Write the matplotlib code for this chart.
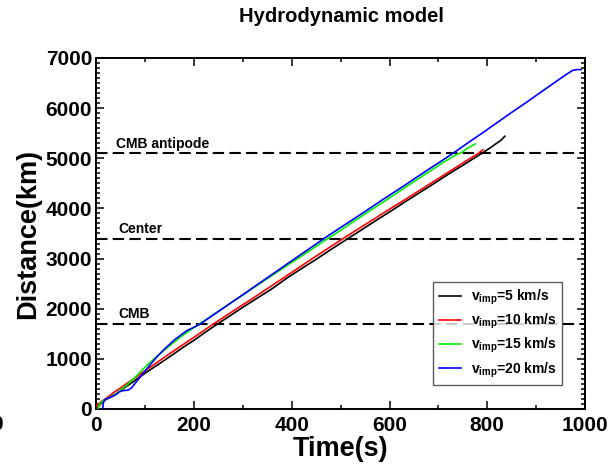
import matplotlib
matplotlib.use("Agg")
import matplotlib.pyplot as plt
from matplotlib.ticker import MultipleLocator

plt.rcParams["font.family"] = ["Liberation Sans", "DejaVu Sans"]
plt.rcParams["font.weight"] = "bold"
plt.rcParams["mathtext.fontset"] = "custom"
plt.rcParams["mathtext.rm"] = "Liberation Sans:bold"
plt.rcParams["mathtext.it"] = "Liberation Sans:bold"
plt.rcParams["mathtext.default"] = "rm"

# Reference depths (km)
cmb_depth = 1700
center_depth = 3400
antipode_depth = 5100
ref_labels = ["CMB", "Center", "CMB antipode"]

# Shock front position vs time for each impact velocity
t_5 = [0, 5, 12, 20, 30, 40, 50, 60, 70, 85, 100, 120, 140, 160, 180, 200, 220, 247,
       270, 300, 330, 360, 390, 420, 450, 480, 515, 540, 570, 600, 630, 660, 690, 720,
       750, 789, 800, 810, 820, 828, 836]
d_5 = [0, 60, 130, 190, 240, 300, 370, 440, 505, 610, 715, 845, 975, 1110, 1245, 1370,
       1510, 1690, 1835, 2030, 2215, 2400, 2610, 2800, 2985, 3180, 3400, 3555, 3745,
       3930, 4120, 4305, 4490, 4680, 4860, 5100, 5170, 5235, 5305, 5360, 5440]

t_10 = [0, 4, 10, 18, 28, 38, 48, 58, 70, 85, 100, 120, 140, 160, 180, 200, 220, 239,
        270, 300, 330, 360, 390, 420, 450, 480, 505, 540, 570, 600, 630, 660, 690, 720,
        750, 782, 791]
d_10 = [50, 100, 150, 200, 270, 345, 410, 480, 560, 660, 765, 900, 1035, 1170, 1300,
        1430, 1565, 1690, 1890, 2080, 2270, 2465, 2660, 2855, 3050, 3240, 3400, 3615,
        3800, 3985, 4165, 4350, 4535, 4720, 4905, 5100, 5170]

t_15 = [3, 6, 10, 16, 25, 35, 45, 55, 65, 80, 95, 110, 125, 140, 160, 180, 195, 210,
        240, 270, 300, 330, 360, 390, 420, 450, 474, 500, 530, 560, 590, 620, 650, 680,
        710, 738, 745, 755, 765, 775]
d_15 = [0, 80, 140, 180, 220, 270, 340, 420, 500, 640, 790, 930, 1060, 1180, 1340, 1490,
        1590, 1690, 1885, 2080, 2275, 2470, 2665, 2860, 3050, 3245, 3400, 3565, 3760,
        3955, 4145, 4340, 4535, 4725, 4920, 5080, 5100, 5170, 5230, 5285]

t_20 = [13, 14, 15, 18, 25, 35, 42, 47, 52, 58, 65, 72, 80, 95, 110, 125, 140, 160, 185,
        212, 240, 270, 300, 330, 360, 390, 420, 466, 500, 530, 560, 590, 620, 650, 680,
        710, 730, 760, 790, 820, 850, 880, 910, 940, 960, 975, 985, 992]
d_20 = [0, 80, 150, 190, 220, 260, 300, 340, 360, 370, 375, 420, 520, 700, 880, 1050,
        1200, 1380, 1560, 1690, 1880, 2080, 2280, 2485, 2685, 2890, 3090, 3400, 3620,
        3810, 4005, 4200, 4390, 4585, 4780, 4970, 5100, 5305, 5505, 5710, 5915, 6115,
        6320, 6525, 6660, 6755, 6770, 6768]

series = [
    (t_5, d_5, "#000000", r"v$_{imp}$=5 km/s"),
    (t_10, d_10, "#ff0000", r"v$_{imp}$=10 km/s"),
    (t_15, d_15, "#00ee00", r"v$_{imp}$=15 km/s"),
    (t_20, d_20, "#0000ff", r"v$_{imp}$=20 km/s"),
]

fig = plt.figure(figsize=(6.16, 4.67), dpi=100)
ax = fig.add_axes([96.3 / 616, 1 - 409 / 467, 488.7 / 616, 351 / 467])

for depth, lab, tx in zip([cmb_depth, center_depth, antipode_depth], ref_labels, [46, 45, 40]):
    ax.axhline(depth, color="black", lw=1.5, dashes=(5.5, 2.5), zorder=1)
    ax.text(tx, depth + 115, lab, fontsize=10, fontweight="bold", va="baseline", ha="left")

for t, d, c, lab in series:
    ax.plot(t, d, color=c, lw=1.2, label=lab, zorder=3)

ax.set_xlim(0, 1000)
ax.set_ylim(0, 7000)
ax.xaxis.set_major_locator(MultipleLocator(200))
ax.xaxis.set_minor_locator(MultipleLocator(100))
ax.yaxis.set_major_locator(MultipleLocator(1000))
ax.yaxis.set_minor_locator(MultipleLocator(100))
ax.tick_params(which="both", direction="in", top=True, right=True, width=1.1)
ax.tick_params(which="major", length=6, labelsize=15)
ax.tick_params(which="minor", length=3)
ax.tick_params(axis="x", which="major", pad=5)
ax.tick_params(axis="y", which="major", pad=3)
for s in ax.spines.values():
    s.set_linewidth(1.4)

ax.set_xlabel("Time(s)", fontsize=19.5, fontweight="bold", labelpad=1)
ax.set_ylabel("Distance(km)", fontsize=19.5, fontweight="bold", labelpad=3)

fig.text(341 / 616, 1 - 16 / 467, "Hydrodynamic model", fontsize=14.5,
         fontweight="bold", ha="center", va="center")
fig.text(-9 / 616, 1 - 425 / 467, "0", fontsize=15, fontweight="bold", ha="left", va="center")

leg = ax.legend(loc="lower right", bbox_to_anchor=(0.953, 0.068), borderaxespad=0,
                fontsize=10, frameon=True, fancybox=False, handlelength=1.6,
                handletextpad=0.7, labelspacing=0.35, borderpad=0.4)
leg.get_frame().set_edgecolor("#333333")
leg.get_frame().set_linewidth(1.0)

fig.savefig("out.png", dpi=100)
